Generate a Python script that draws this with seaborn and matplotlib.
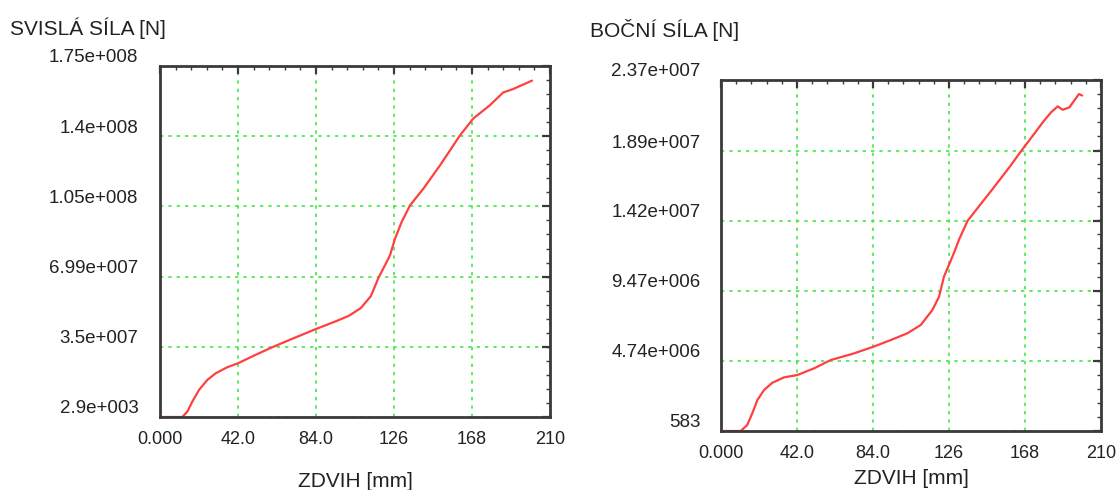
import numpy as np
import pandas as pd
import matplotlib
matplotlib.use("Agg")
import matplotlib.pyplot as plt
import matplotlib.transforms as mtransforms
from matplotlib.ticker import FixedLocator, FixedFormatter
import seaborn as sns

# Vertical force vs. lift
zdvih_svisla = [0.0, 12.0, 14.7, 17.4, 21.0, 25.5, 30.0, 36.2, 42.0, 51.5, 60.5, 71.2, 83.8,
                94.6, 101.8, 108.1, 113.5, 117.6, 123.8, 126.5, 130.1, 134.6, 141.8, 150.8,
                161.6, 168.7, 177.7, 184.8, 190.1, 200.3]
sila_svisla = [2.9e3, 2.9e3, 2.65e6, 7.65e6, 1.35e7, 1.85e7, 2.18e7, 2.48e7, 2.68e7, 3.1e7,
               3.48e7, 3.9e7, 4.38e7, 4.77e7, 5.05e7, 5.43e7, 6.02e7, 6.93e7, 8.05e7, 8.88e7,
               9.72e7, 1.055e8, 1.138e8, 1.255e8, 1.405e8, 1.488e8, 1.555e8, 1.618e8, 1.635e8,
               1.677e8]

# Lateral force vs. lift
zdvih_bocni = [0.0, 10.9, 14.5, 17.3, 20.1, 23.8, 28.4, 34.8, 42.2, 51.4, 60.6, 73.5, 84.2,
               93.8, 103.0, 110.4, 116.8, 120.5, 123.2, 128.9, 131.7, 136.3, 142.8, 150.1,
               159.3, 166.7, 172.3, 177.8, 182.4, 186.1, 188.8, 192.5, 197.8, 199.6]
sila_bocni = [583, 583, 4.05e5, 1.2e6, 2.09e6, 2.77e6, 3.26e6, 3.62e6, 3.78e6, 4.23e6, 4.79e6,
              5.24e6, 5.69e6, 6.14e6, 6.6e6, 7.16e6, 8.17e6, 9.07e6, 1.042e7, 1.207e7, 1.297e7,
              1.42e7, 1.521e7, 1.634e7, 1.78e7, 1.904e7, 1.994e7, 2.084e7, 2.152e7, 2.192e7,
              2.169e7, 2.185e7, 2.275e7, 2.265e7]

x_ticks = [0.0, 42.0, 84.0, 126.0, 168.0, 210.0]
x_labels = ["0.000", "42.0", "84.0", "126", "168", "210"]

y_ticks_svisla = [2.9e3, 3.5e7, 6.99e7, 1.05e8, 1.4e8, 1.75e8]
y_labels_svisla = ["2.9e+003", "3.5e+007", "6.99e+007", "1.05e+008", "1.4e+008", "1.75e+008"]

y_ticks_bocni = [583, 4.74e6, 9.47e6, 1.42e7, 1.89e7, 2.37e7]
y_labels_bocni = ["583", "4.74e+006", "9.47e+006", "1.42e+007", "1.89e+007", "2.37e+007"]

sns.set_theme(style="white")
plt.rcParams["font.family"] = ["Liberation Sans", "DejaVu Sans"]

fig = plt.figure(figsize=(11.17, 4.90), dpi=100)
ax1 = fig.add_axes([0.14324, 0.14898, 0.34915, 0.71633])
ax2 = fig.add_axes([0.64548, 0.12041, 0.34020, 0.71633])

LINE = "#ff4040"
GRID = "#44e844"
SPINE = "#3a3a3a"
TEXT = "#222222"


def style_axis(ax, x, y, yt, yl, ypad, title_xy, title, xlabel_y):
    df = pd.DataFrame({"x": x, "y": y})
    sns.lineplot(data=df, x="x", y="y", ax=ax, color=LINE, linewidth=1.6)
    ax.set_xlim(x_ticks[0], x_ticks[-1])
    ax.set_ylim(yt[0], yt[-1])
    ax.xaxis.set_major_locator(FixedLocator(x_ticks))
    ax.xaxis.set_major_formatter(FixedFormatter(x_labels))
    ax.yaxis.set_major_locator(FixedLocator(yt))
    ax.yaxis.set_major_formatter(FixedFormatter(yl))
    ax.xaxis.set_minor_locator(FixedLocator(np.linspace(x_ticks[0], x_ticks[-1], 26)))
    ax.yaxis.set_minor_locator(FixedLocator(np.linspace(yt[0], yt[-1], 26)))
    ax.tick_params(which="both", direction="in", top=True, right=True, color=SPINE)
    ax.tick_params(which="major", length=6, width=1.6)
    ax.tick_params(which="minor", length=3, width=1.0)
    ax.tick_params(axis="x", which="major", labelsize=13, pad=10, labelcolor=TEXT)
    ax.tick_params(axis="y", which="major", labelsize=13.5, pad=ypad, labelcolor=TEXT)
    ax.grid(True, which="major", color=GRID, linestyle=(0, (2, 3)), linewidth=1.2)
    ax.set_axisbelow(True)
    for sp in ax.spines.values():
        sp.set_visible(True)
        sp.set_color(SPINE)
        sp.set_linewidth(2.0)
    ax.set_xlabel("ZDVIH [mm]", fontsize=15, color=TEXT)
    ax.set_ylabel("")
    ax.xaxis.set_label_coords(0.5, xlabel_y)
    offset = mtransforms.ScaledTranslation(0, 10 / 100, fig.dpi_scale_trans)
    for lab in ax.get_yticklabels():
        lab.set_transform(lab.get_transform() + offset)
    fig.text(title_xy[0], title_xy[1], title, fontsize=15, color=TEXT,
             ha="left", va="center")


style_axis(ax1, zdvih_svisla, sila_svisla, y_ticks_svisla, y_labels_svisla, 15.5,
           (10 / 1117, 1 - 28 / 490), "SVISLÁ SÍLA [N]", -0.157)
style_axis(ax2, zdvih_bocni, sila_bocni, y_ticks_bocni, y_labels_bocni, 14.5,
           (590 / 1117, 1 - 30 / 490), "BOČNÍ SÍLA [N]", -0.108)

fig.savefig("out.png", dpi=100, facecolor="white")
